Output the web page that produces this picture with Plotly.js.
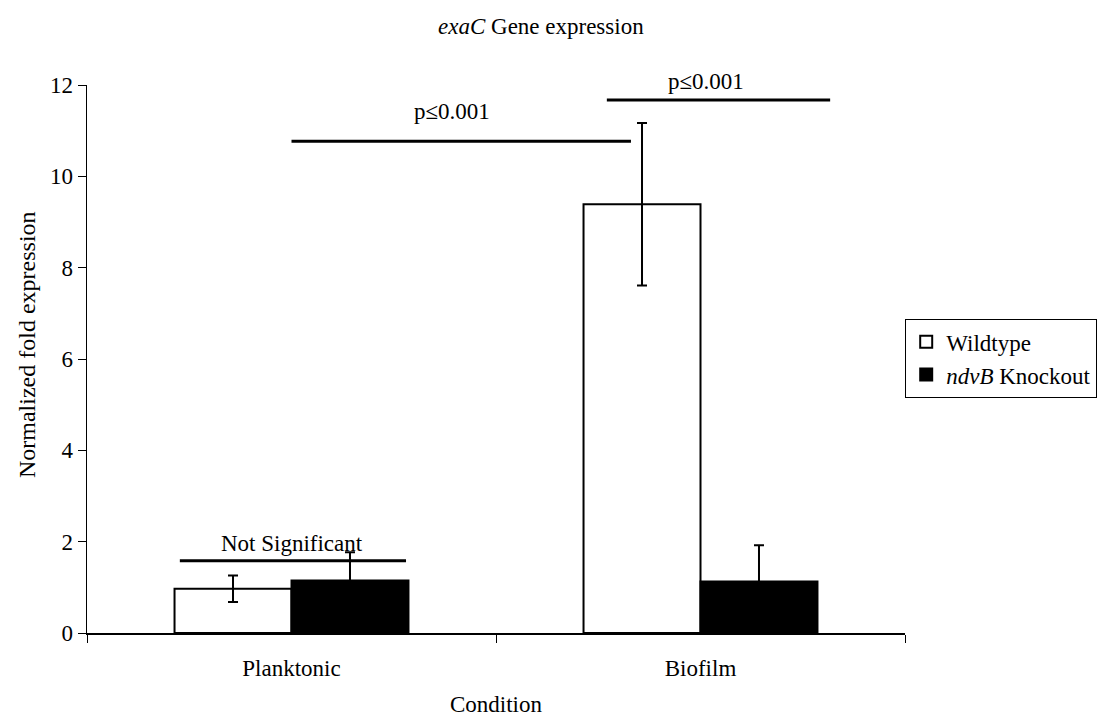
<!DOCTYPE html>
<html>
<head>
<meta charset="utf-8">
<script src="https://cdn.plot.ly/plotly-3.0.1.min.js"></script>
<style>
  html, body { margin: 0; padding: 0; background: #fff; }
  #chart { width: 1110px; height: 722px; }
</style>
</head>
<body>
<div id="chart"></div>
<script>
// exaC expression, planktonic vs biofilm
const conditions = ["Planktonic", "Biofilm"];
const wildtype = [0.97, 9.39];
const wildtypeErr = [0.29, 1.78];
const knockout = [1.15, 1.13];
const knockoutErr = [0.62, 0.79];
const yTicks = [0, 2, 4, 6, 8, 10, 12];

const serif = "'Liberation Serif', 'Times New Roman', serif";
const txt = 23;

const traces = [
  {
    type: "bar",
    name: "Wildtype",
    x: conditions,
    y: wildtype,
    marker: { color: "#ffffff", line: { color: "#000", width: 2 } },
    error_y: { type: "data", array: wildtypeErr, visible: true, color: "#000", thickness: 2, width: 5 }
  },
  {
    type: "bar",
    name: "<i>ndvB</i> Knockout",
    x: conditions,
    y: knockout,
    marker: { color: "#000000", line: { color: "#000", width: 2 } },
    error_y: { type: "data", array: knockoutErr, visible: true, color: "#000", thickness: 2, width: 5 }
  }
];

const layout = {
  width: 1110,
  height: 722,
  paper_bgcolor: "#fff",
  plot_bgcolor: "#fff",
  font: { family: serif, size: txt, color: "#000" },
  margin: { l: 87, r: 205, t: 84.5, b: 88.5 },
  barmode: "group",
  bargap: 0.428,
  bargroupgap: 0,
  title: {
    text: "<i>exaC</i> Gene expression",
    font: { family: serif, size: 23, color: "#000" },
    x: 438 / 1110, xanchor: "left", xref: "container",
    y: 1 - 26 / 722, yanchor: "middle", yref: "container"
  },
  xaxis: {
    type: "category",
    range: [-0.5, 1.5],
    showline: true, linecolor: "#000", linewidth: 1.5,
    ticks: "outside", tickson: "boundaries", ticklen: 8, tickcolor: "#000",
    ticklabelstandoff: 14,
    showgrid: false, zeroline: false,
    tickfont: { family: serif, size: txt },
    title: { text: "Condition", font: { family: serif, size: txt }, standoff: 16 }
  },
  yaxis: {
    range: [0, 12],
    tickvals: yTicks,
    showline: true, linecolor: "#000", linewidth: 1.5,
    ticks: "outside", ticklen: 8, tickcolor: "#000",
    showgrid: false, zeroline: false,
    tickfont: { family: serif, size: txt }
  },
  legend: {
    x: (905 - 87) / 818, xanchor: "left",
    y: (633.5 - 319) / 549, yanchor: "top",
    bordercolor: "#000", borderwidth: 1.2,
    bgcolor: "#fff",
    font: { family: serif, size: txt },
    traceorder: "normal",
    itemwidth: 30
  },
  shapes: [
    { type: "line", xref: "x", yref: "y", x0: -0.273, x1: 0.28, y0: 1.58, y1: 1.58, line: { color: "#000", width: 3 } },
    { type: "line", xref: "x", yref: "y", x0: 0.0, x1: 0.83, y0: 10.77, y1: 10.77, line: { color: "#000", width: 3 } },
    { type: "line", xref: "x", yref: "y", x0: 0.771, x1: 1.317, y0: 11.67, y1: 11.67, line: { color: "#000", width: 3 } }
  ],
  annotations: [
    // y-axis title, placed by hand so it sits slightly above the plot centre
    { xref: "paper", yref: "paper", x: (27 - 87) / 818, y: (633.5 - 345) / 549, textangle: -90,
      text: "Normalized fold expression", showarrow: false, xanchor: "center", yanchor: "middle",
      font: { family: serif, size: 24 } },
    { xref: "x", yref: "y", x: 0.0, y: 1.58, yshift: 3, text: "Not Significant", showarrow: false, yanchor: "bottom", font: { family: serif, size: txt } },
    { xref: "x", yref: "y", x: 0.392, y: 10.77, yshift: 15, text: "p≤0.001", showarrow: false, yanchor: "bottom", font: { family: serif, size: txt } },
    { xref: "x", yref: "y", x: 1.013, y: 11.67, yshift: 4, text: "p≤0.001", showarrow: false, yanchor: "bottom", font: { family: serif, size: txt } }
  ]
};

Plotly.newPlot("chart", traces, layout, { displayModeBar: false, staticPlot: true });
</script>
</body>
</html>
